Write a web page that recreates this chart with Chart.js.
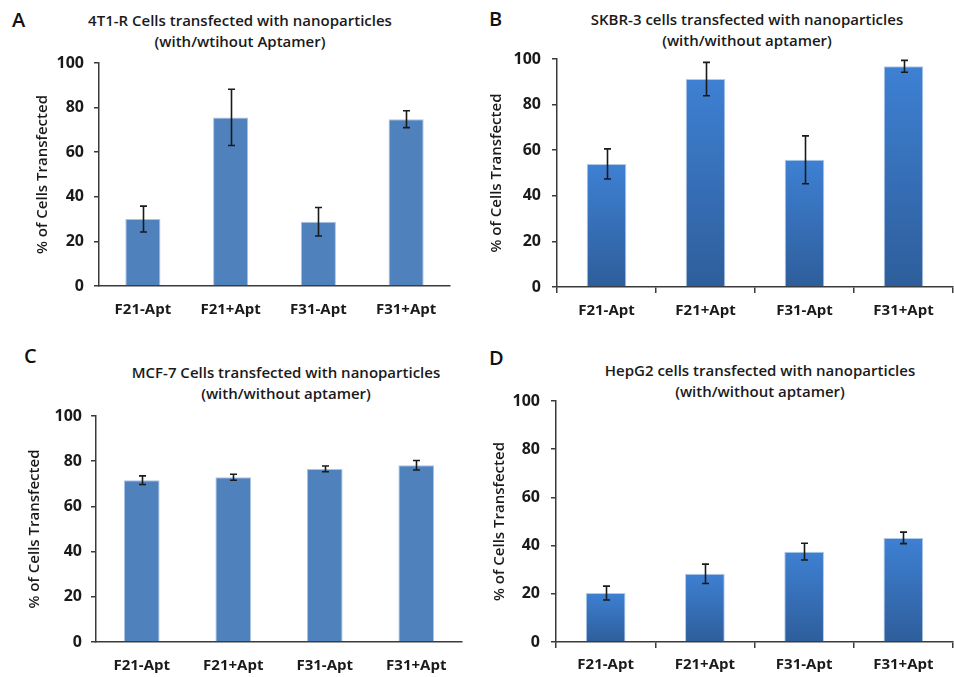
<!DOCTYPE html>
<html>
<head>
<meta charset="utf-8">
<script src="https://cdn.jsdelivr.net/npm/chart.js@4.4.0/dist/chart.umd.min.js"></script>
<style>
  body { margin: 0; background: #fff; overflow: hidden; width: 954px; height: 677px; position: relative; }
  canvas { position: absolute; }
  .letter { position: absolute; font-family: "Open Sans", sans-serif; font-weight: 600; font-size: 20px; color: #111; line-height: 1; }
  .title { position: absolute; width: 420px; text-align: center; font-family: "Open Sans", sans-serif; font-weight: 600; font-size: 15px; line-height: 21px; color: #1a1a1a; white-space: nowrap; }
</style>
</head>
<body>
<div class="letter" style="left:12px;top:10px">A</div>
<div class="letter" style="left:489px;top:9px">B</div>
<div class="letter" style="left:24px;top:346px">C</div>
<div class="letter" style="left:489px;top:348px">D</div>
<div class="title" id="titleA" style="left:30px;top:10px"></div>
<div class="title" id="titleB" style="left:537px;top:9px"></div>
<div class="title" id="titleC" style="left:76px;top:362px"></div>
<div class="title" id="titleD" style="left:550px;top:360px"></div>
<canvas id="chartA" width="480" height="330" style="left:0;top:0"></canvas>
<canvas id="chartB" width="477" height="330" style="left:477px;top:0"></canvas>
<canvas id="chartC" width="477" height="347" style="left:0;top:330px"></canvas>
<canvas id="chartD" width="477" height="347" style="left:477px;top:330px"></canvas>
<script>
// -------- Data --------
const categories = ["F21-Apt", "F21+Apt", "F31-Apt", "F31+Apt"];
const yMin = 0, yMax = 100, yStep = 20;

const titleA = ["4T1-R Cells transfected with nanoparticles", "(with/wtihout Aptamer)"];
const valuesA = [30, 75.6, 28.8, 74.8];
const errA = [5.8, 12.6, 6.4, 3.8];

const titleB = ["SKBR-3 cells transfected with nanoparticles", "(with/without aptamer)"];
const valuesB = [54, 91.2, 55.8, 96.8];
const errB = [6.6, 7.3, 10.5, 2.6];

const titleC = ["MCF-7 Cells transfected with nanoparticles", "(with/without aptamer)"];
const valuesC = [71.6, 72.9, 76.6, 78.2];
const errC = [1.9, 1.3, 1.3, 2.1];

const titleD = ["HepG2 cells transfected with nanoparticles", "(with/without aptamer)"];
const valuesD = [20.3, 28.3, 37.5, 43.2];
const errD = [2.9, 4.0, 3.5, 2.4];

const yLabel = "% of Cells Transfected";
const axisColor = "#3a3a3a";
const FONT = "'Open Sans', sans-serif";

Chart.defaults.animation = false;
Chart.defaults.font.family = FONT;
Chart.defaults.color = "#1a1a1a";

// error bars drawn from the y scale
const errorBars = {
  id: "errorBars",
  afterDatasetsDraw(chart, args, opts) {
    const ctx = chart.ctx;
    const y = chart.scales.y;
    const meta = chart.getDatasetMeta(0);
    const vals = chart.data.datasets[0].data;
    ctx.save();
    ctx.strokeStyle = "#1a1a1a";
    ctx.lineWidth = 1.6;
    meta.data.forEach((bar, i) => {
      const e = opts.errors[i];
      const top = y.getPixelForValue(vals[i] + e);
      const bot = y.getPixelForValue(vals[i] - e);
      const x = Math.round(bar.x) + 0.5;
      ctx.beginPath();
      ctx.moveTo(x, top); ctx.lineTo(x, bot);
      ctx.moveTo(x - 3.5, top); ctx.lineTo(x + 3.5, top);
      ctx.moveTo(x - 3.5, bot); ctx.lineTo(x + 3.5, bot);
      ctx.stroke();
    });
    ctx.restore();
  }
};

function gradientFill(context) {
  const chart = context.chart;
  if (!chart.chartArea) return "#3a72bb";
  const y = chart.scales.y;
  const top = y.getPixelForValue(context.raw);
  const bot = y.getPixelForValue(0);
  const g = chart.ctx.createLinearGradient(0, top, 0, bot);
  g.addColorStop(0, "#3e80d3");
  g.addColorStop(1, "#2e5e9b");
  return g;
}

function makePanel(id, opts) {
  document.getElementById("title" + id.slice(-1)).innerHTML = opts.title.join("<br>");
  new Chart(document.getElementById(id), {
    type: "bar",
    data: {
      labels: categories,
      datasets: [{
        data: opts.values,
        backgroundColor: opts.gradient ? gradientFill : "#4f81bd",
        borderColor: opts.gradient ? "rgba(170,196,230,0.9)" : "rgba(150,180,220,0.8)",
        borderWidth: 1,
        borderSkipped: "bottom",
        categoryPercentage: 1,
        barPercentage: opts.barPct
      }]
    },
    options: {
      responsive: false,
      devicePixelRatio: 1,
      layout: { padding: { left: 0, right: opts.padRight, top: opts.padTop, bottom: 0 } },
      plugins: {
        legend: { display: false },
        tooltip: { enabled: false },
        title: { display: false },
        errorBars: { errors: opts.errors }
      },
      scales: {
        x: {
          grid: {
            display: opts.xTicks,
            drawOnChartArea: false,
            drawTicks: opts.xTicks,
            tickLength: 6,
            color: axisColor,
            lineWidth: 1.5
          },
          border: { display: true, color: axisColor, width: 1.5 },
          ticks: { font: { size: 15, weight: "bold" }, color: "#1a1a1a", padding: opts.xPad },
          afterFit(scale) { scale.height = opts.xHeight; }
        },
        y: {
          min: yMin,
          max: yMax,
          ticks: { stepSize: yStep, font: { size: 16, weight: "bold" }, color: "#1a1a1a", padding: opts.yPad },
          grid: { drawOnChartArea: false, drawTicks: true, tickLength: 5, color: axisColor, lineWidth: 1.5 },
          border: { display: true, color: axisColor, width: 1.5 },
          title: {
            display: true,
            text: yLabel,
            font: { size: 15, weight: "600" },
            color: "#1a1a1a",
            padding: { top: opts.yTitlePad, bottom: 0 }
          },
          afterFit(scale) { scale.width = opts.yWidth; }
        }
      }
    },
    plugins: [errorBars]
  });
}

makePanel("chartA", {
  title: titleA, values: valuesA, errors: errA, gradient: false, barPct: 0.4,
  padRight: 30, padTop: 63,
  xTicks: false, xPad: 15, xHeight: 44, yPad: 10, yWidth: 99, yTitlePad: 34
});
makePanel("chartB", {
  title: titleB, values: valuesB, errors: errB, gradient: true, barPct: 0.4,
  padRight: 1, padTop: 59,
  xTicks: true, xPad: 9, xHeight: 43, yPad: 11, yWidth: 80, yTitlePad: 11
});
makePanel("chartC", {
  title: titleC, values: valuesC, errors: errC, gradient: false, barPct: 0.39,
  padRight: 15, padTop: 86,
  xTicks: false, xPad: 15, xHeight: 35, yPad: 9, yWidth: 96, yTitlePad: 26
});
makePanel("chartD", {
  title: titleD, values: valuesD, errors: errD, gradient: true, barPct: 0.4,
  padRight: 1, padTop: 71,
  xTicks: true, xPad: 8, xHeight: 35, yPad: 11, yWidth: 79, yTitlePad: 14
});
</script>
</body>
</html>
